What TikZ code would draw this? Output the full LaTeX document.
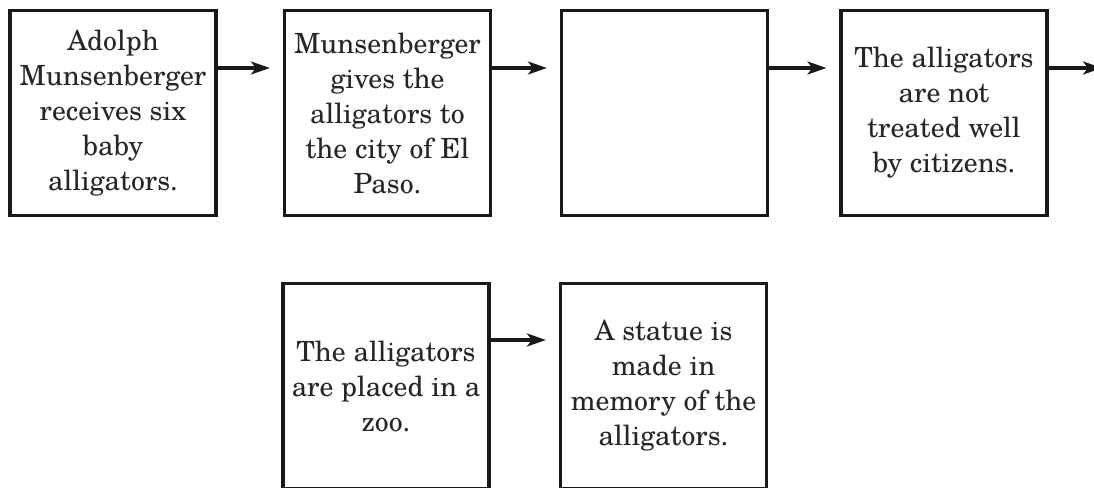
\documentclass[tikz,border=0pt]{standalone}
\usepackage{fontspec}
\setmainfont{TeX Gyre Schola}
\usetikzlibrary{arrows.meta}
\begin{document}
\begin{tikzpicture}[x=1pt,y=-1pt,
  box/.style={draw=black!90, line width=3.2pt, minimum width=206pt, minimum height=205pt,
    inner sep=0pt, align=center, text=black!85, font=\fontsize{27.8}{35}\selectfont},
  arr/.style={draw=black!90, line width=3.2pt, -{Stealth[length=19pt,width=13pt,inset=5pt]}, shorten >=13pt}]
\useasboundingbox (0,0) rectangle (1094,487);
\clip (0,0) rectangle (1094,487);
\node[box] (b1) at (113,113)   {Adolph\\Munsenberger\\receives six\\baby\\alligators.};
\node[box] (b2) at (387.5,113) {Munsenberger\\gives the\\alligators to\\the city of El\\Paso.};
\node[box] (b3) at (664.5,113) {};
\node[box] (b4) at (944,113)   {The alligators\\are not\\treated well\\by citizens.};
\node[box] (b5) at (386,386)   {The alligators\\are placed in a\\zoo.};
\node[box] (b6) at (663.5,386) {A statue is\\made in\\memory of the\\alligators.};
\coordinate (out) at (1115,68);
\draw[arr] ([yshift=45pt]b1.east) -- ([yshift=45pt]b2.west);
\draw[arr] ([yshift=45pt]b2.east) -- ([yshift=45pt]b3.west);
\draw[arr] ([yshift=45pt]b3.east) -- ([yshift=45pt]b4.west);
\draw[arr] ([yshift=45pt]b4.east) -- (out);
\draw[arr] ([yshift=46pt]b5.east) -- ([yshift=46pt]b6.west);
\end{tikzpicture}
\end{document}
